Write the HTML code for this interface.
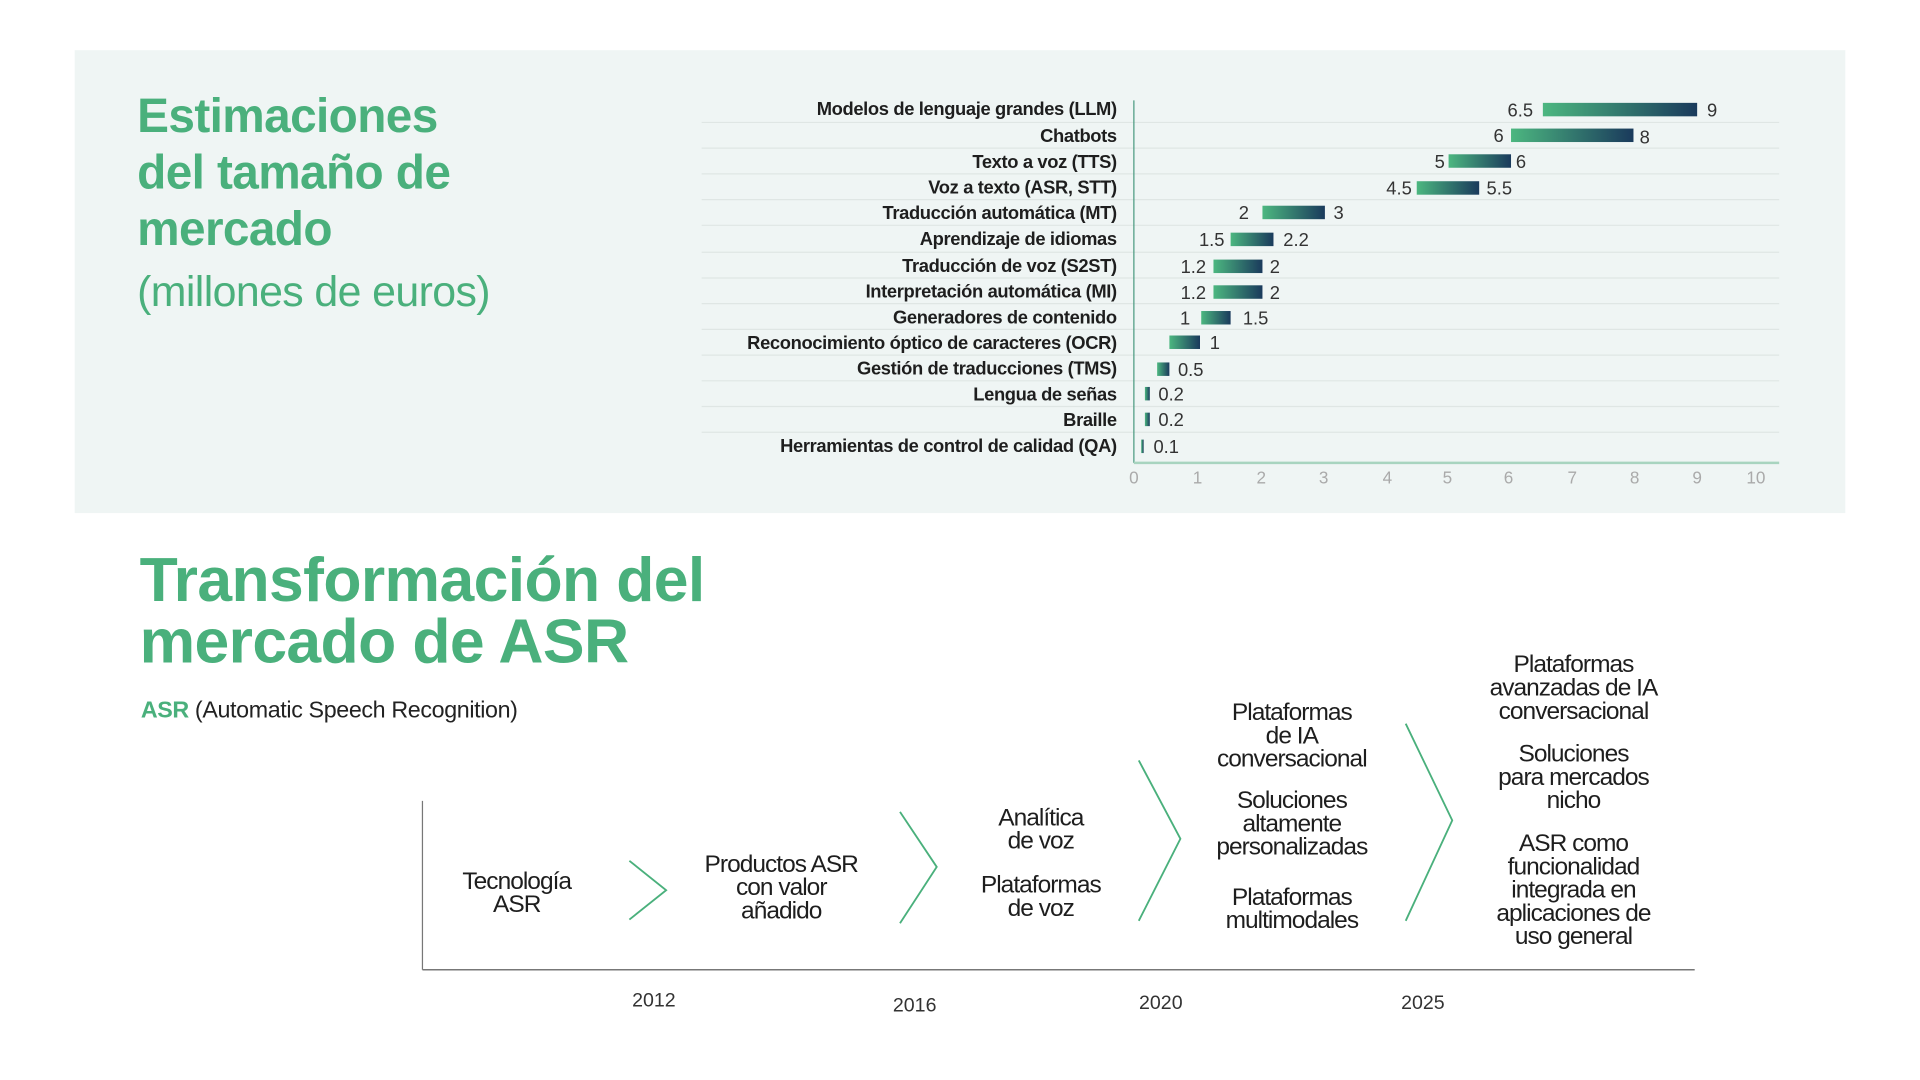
<!DOCTYPE html>
<html><head><meta charset="utf-8"><style>
html,body{margin:0;padding:0;background:#fff;overflow:hidden}
#w{position:absolute;left:0;top:0;width:1568px;height:882px;transform:scale(1.22449);transform-origin:0 0;font-family:"Liberation Sans",sans-serif}
.t{position:absolute;white-space:nowrap}
.c{position:absolute;text-align:center;color:#1e1e1e;font-size:20px;line-height:19px;letter-spacing:-0.8px;transform:translateX(-50%);white-space:nowrap}
</style></head><body><div id="w">
<div style="position:absolute;left:61px;top:41px;width:1446px;height:378px;background:#eff5f4"></div>
<div class="t" style="left:112px;top:73px;color:#4ab07c;font-weight:bold;font-size:39px;line-height:46px;letter-spacing:-0.5px">Estimaciones<br>del tamaño de<br>mercado</div>
<div class="t" style="left:112px;top:219px;color:#4ab07c;font-size:35px;letter-spacing:-0.5px">(millones de euros)</div>
<svg style="position:absolute;left:0;top:0" width="1568" height="882">
<defs><linearGradient id="g" x1="0" x2="1" y1="0" y2="0"><stop offset="0" stop-color="#4cb780"/><stop offset="1" stop-color="#1a3a5c"/></linearGradient></defs>
<g stroke="#dfe6e4" stroke-width="1">
<line x1="573" x2="1453" y1="100" y2="100"/><line x1="573" x2="1453" y1="121" y2="121"/><line x1="573" x2="1453" y1="142" y2="142"/><line x1="573" x2="1453" y1="163" y2="163"/><line x1="573" x2="1453" y1="184" y2="184"/><line x1="573" x2="1453" y1="206" y2="206"/><line x1="573" x2="1453" y1="227" y2="227"/><line x1="573" x2="1453" y1="248" y2="248"/><line x1="573" x2="1453" y1="269" y2="269"/><line x1="573" x2="1453" y1="290" y2="290"/><line x1="573" x2="1453" y1="311" y2="311"/><line x1="573" x2="1453" y1="332" y2="332"/><line x1="573" x2="1453" y1="353" y2="353"/>
</g>
<line x1="926" x2="926" y1="82" y2="378" stroke="#4a9a80" stroke-width="1"/>
<line x1="926" x2="1453" y1="378" y2="378" stroke="#a8d4bf" stroke-width="2"/>
<g font-size="14" fill="#aaa" text-anchor="middle" font-family="Liberation Sans,sans-serif">
<text x="926" y="395">0</text><text x="978" y="395">1</text><text x="1030" y="395">2</text><text x="1081" y="395">3</text><text x="1133" y="395">4</text><text x="1182" y="395">5</text><text x="1232" y="395">6</text><text x="1284" y="395">7</text><text x="1335" y="395">8</text><text x="1386" y="395">9</text><text x="1434" y="395">10</text></g>
<g font-size="15" font-weight="bold" fill="#1e1e1e" text-anchor="end" letter-spacing="-0.3" font-family="Liberation Sans,sans-serif">
<text x="912" y="94">Modelos de lenguaje grandes (LLM)</text><text x="912" y="116">Chatbots</text><text x="912" y="137">Texto a voz (TTS)</text><text x="912" y="158">Voz a texto (ASR, STT)</text><text x="912" y="179">Traducción automática (MT)</text><text x="912" y="200">Aprendizaje de idiomas</text><text x="912" y="222">Traducción de voz (S2ST)</text><text x="912" y="243">Interpretación automática (MI)</text><text x="912" y="264">Generadores de contenido</text><text x="912" y="285">Reconocimiento óptico de caracteres (OCR)</text><text x="912" y="306">Gestión de traducciones (TMS)</text><text x="912" y="327">Lengua de señas</text><text x="912" y="348">Braille</text><text x="912" y="369">Herramientas de control de calidad (QA)</text></g>
<g fill="url(#g)">
<rect x="1260" y="84" width="126" height="11"/><rect x="1234" y="105" width="100" height="11"/><rect x="1183" y="126" width="51" height="11"/><rect x="1157" y="148" width="51" height="11"/><rect x="1031" y="168" width="51" height="11"/><rect x="1005" y="190" width="35" height="11"/><rect x="991" y="212" width="40" height="11"/><rect x="991" y="233" width="40" height="11"/><rect x="981" y="254" width="24" height="11"/><rect x="955" y="274" width="25" height="11"/><rect x="945" y="296" width="10" height="11"/><rect x="935" y="316" width="4" height="11"/><rect x="935" y="337" width="4" height="11"/><rect x="932" y="359" width="2" height="11"/></g>
<g font-size="15" fill="#333" font-family="Liberation Sans,sans-serif">
<g text-anchor="end"><text x="1252" y="95">6.5</text><text x="1228" y="116">6</text><text x="1180" y="137">5</text><text x="1153" y="159">4.5</text><text x="1020" y="179">2</text><text x="1000" y="201">1.5</text><text x="985" y="223">1.2</text><text x="985" y="244">1.2</text><text x="972" y="265">1</text></g>
<text x="1394" y="95">9</text><text x="1339" y="117">8</text><text x="1238" y="137">6</text><text x="1214" y="159">5.5</text><text x="1089" y="179">3</text><text x="1048" y="201">2.2</text><text x="1037" y="223">2</text><text x="1037" y="244">2</text><text x="1015" y="265">1.5</text><text x="988" y="285">1</text><text x="962" y="307">0.5</text><text x="946" y="327">0.2</text><text x="946" y="348">0.2</text><text x="942" y="370">0.1</text></g>
<g stroke="#4ab07c" stroke-width="1.5" fill="none">
<polyline points="514,703 544,727 514,751"/><polyline points="735,663 765,708 735,754"/><polyline points="930,621 964,685 930,752"/><polyline points="1148,591 1186,670 1148,752"/></g>
<line x1="345" x2="345" y1="654" y2="792" stroke="#777" stroke-width="1"/>
<line x1="345" x2="1384" y1="792" y2="792" stroke="#777" stroke-width="1.2"/>
<g font-size="16" fill="#333" text-anchor="middle" font-family="Liberation Sans,sans-serif"><text x="534" y="822">2012</text><text x="747" y="826">2016</text><text x="948" y="824">2020</text><text x="1162" y="824">2025</text></g>
</svg>
<div class="t" style="left:114px;top:449px;color:#4ab07c;font-weight:bold;font-size:51px;line-height:50px;letter-spacing:-0.5px">Transformación del<br>mercado de ASR</div>
<div class="t" style="left:115px;top:570px;font-size:19px;color:#222;letter-spacing:-0.3px"><b style="color:#4ab07c">ASR</b> (Automatic Speech Recognition)</div>
<div class="c" style="left:422px;top:711px">Tecnología<br>ASR</div>
<div class="c" style="left:638px;top:697px">Productos ASR<br>con valor<br>añadido</div>
<div class="c" style="left:850px;top:659px">Analítica<br>de voz</div>
<div class="c" style="left:850px;top:714px">Plataformas<br>de voz</div>
<div class="c" style="left:1055px;top:573px">Plataformas<br>de IA<br>conversacional</div>
<div class="c" style="left:1055px;top:645px">Soluciones<br>altamente<br>personalizadas</div>
<div class="c" style="left:1055px;top:724px">Plataformas<br>multimodales</div>
<div class="c" style="left:1285px;top:534px">Plataformas<br>avanzadas de IA<br>conversacional</div>
<div class="c" style="left:1285px;top:607px">Soluciones<br>para mercados<br>nicho</div>
<div class="c" style="left:1285px;top:680px">ASR como<br>funcionalidad<br>integrada en<br>aplicaciones de<br>uso general</div>
</div></body></html>
